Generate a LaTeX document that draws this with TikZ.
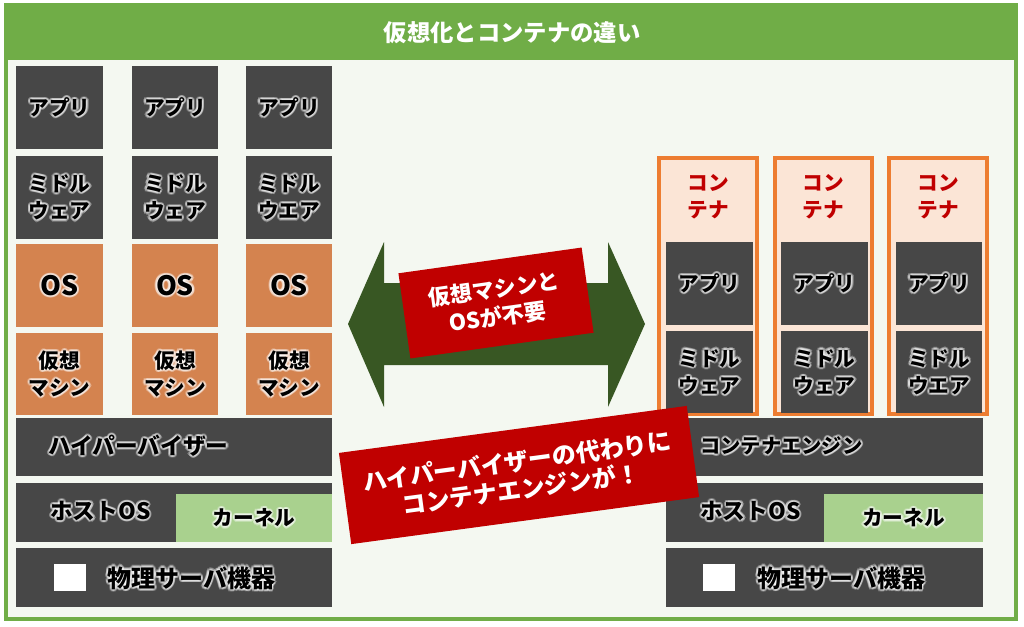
\documentclass[tikz,border=0pt]{standalone}
\usepackage{fontspec}
\setmainfont{Noto Sans CJK JP}
\usetikzlibrary{calc,fit}
\definecolor{frgreen}{HTML}{70AD47}
\definecolor{bgc}{HTML}{F4F8F1}
\definecolor{dgray}{HTML}{474747}
\definecolor{osor}{HTML}{D4834F}
\definecolor{cbord}{HTML}{ED7D31}
\definecolor{cfill}{HTML}{FBE5D6}
\definecolor{kern}{HTML}{A9D18E}
\definecolor{redb}{HTML}{C00000}
\definecolor{arrg}{HTML}{385723}
\tikzset{
  box/.style={inner sep=0pt, outer sep=0pt},
  dbox/.style={box, fill=dgray},
  obox/.style={box, fill=osor},
  kbox/.style={box, fill=kern},
  wbox/.style={box, fill=white},
  cbox/.style={box, fill=cfill, draw=cbord, line width=3pt},
  gltxt/.style={font=\bfseries\fontsize{15.5}{20.5}\selectfont, align=center, inner sep=0pt, text=black},
  redbox/.style={fill=redb, text=white, align=center, inner sep=0pt, font=\bfseries\fontsize{16.5}{20.5}\selectfont},
  ctitle/.style={text=redb, align=center, inner sep=0pt, font=\bfseries\fontsize{15.5}{20.5}\selectfont},
}
\newcommand\gl[4][]{%
  \foreach \a in {0,30,...,330}{\node[gltxt,#1,text=white,opacity=0.3] at ($(#3)+(\a:2.2)$) {#4};}%
  \node[gltxt,#1] (#2) at (#3) {#4};}
\begin{document}
\begin{tikzpicture}[x=0.75pt,y=-0.75pt]
\fill[white] (0,0) rectangle (1024,626);
\useasboundingbox (0,0) rectangle (1024,626);
% frame and title
\node[box, fit={(6,5)(1016,619)}, draw=frgreen, line width=3pt, fill=bgc] (frame) {};
\node[box, fit={(6,5)(1016,60)}, fill=frgreen] (bar) {};
\node[font=\bfseries\fontsize{17.5}{20}\selectfont, text=white, inner sep=0pt] (title) at (512,33) {仮想化とコンテナの違い};
% left stacks
\foreach \i/\xa/\xb/\we in {1/16/103/ウェア,2/132/218/ウェア,3/246/332/ウエア}{
  \node[dbox, fit={(\xa,66)(\xb,149)}] (la\i) {};
  \node[dbox, fit={(\xa,156)(\xb,239)}] (lm\i) {};
  \node[obox, fit={(\xa,244)(\xb,327)}] (lo\i) {};
  \node[obox, fit={(\xa,333)(\xb,415)}] (lv\i) {};
  \gl{lat\i}{la\i}{アプリ}
  \gl{lmt\i}{lm\i}{ミドル\\\we}
  \gl[font=\bfseries\fontsize{20}{22}\selectfont]{lot\i}{lo\i}{OS}
  \gl{lvt\i}{lv\i}{仮想\\マシン}
}
\node[dbox, fit={(16,418)(332,476)}] (hyp) {};
\node[dbox, fit={(16,483)(332,542)}] (lhost) {};
\node[kbox, fit={(176,494)(332,542)}] (lkern) {};
\node[dbox, fit={(16,548)(332,607)}] (lphys) {};
\node[wbox, fit={(54,564)(86,591)}] (lsq) {};
\gl[anchor=west, font=\bfseries\fontsize{17}{20}\selectfont]{hypt}{48,446}{ハイパーバイザー}
\gl[anchor=west, font=\bfseries\fontsize{17}{20}\selectfont]{lhostt}{50,511}{ホストOS}
\gl{lkernt}{lkern}{カーネル}
\gl[anchor=west, font=\bfseries\fontsize{18}{20}\selectfont]{lphyst}{107,578}{物理サーバ機器}
% right stacks
\foreach \i/\ca/\cb/\xa/\xb/\we in {1/659/757/666/753/ウェア,2/775/872/781/868/ウェア,3/889/987/896/982/ウエア}{
  \node[cbox, fit={(\ca,158)(\cb,414)}] (c\i) {};
  \node[ctitle] (ct\i) at ($(\ca,197)!0.5!(\cb,197)$) {コン\\テナ};
  \node[dbox, fit={(\xa,242)(\xb,325)}] (ra\i) {};
  \node[dbox, fit={(\xa,331)(\xb,413)}] (rm\i) {};
  \gl{rat\i}{ra\i}{アプリ}
  \gl{rmt\i}{rm\i}{ミドル\\\we}
}
\node[dbox, fit={(666,418)(983,476)}] (eng) {};
\node[dbox, fit={(666,483)(983,542)}] (rhost) {};
\node[kbox, fit={(824,494)(983,542)}] (rkern) {};
\node[dbox, fit={(666,548)(983,607)}] (rphys) {};
\node[wbox, fit={(703,564)(735,591)}] (rsq) {};
\gl[anchor=west, font=\bfseries\fontsize{15.2}{20}\selectfont]{engt}{700,446}{コンテナエンジン}
\gl[anchor=west, font=\bfseries\fontsize{17}{20}\selectfont]{rhostt}{700,511}{ホストOS}
\gl{rkernt}{rkern}{カーネル}
\gl[anchor=west, font=\bfseries\fontsize{18}{20}\selectfont]{rphyst}{757,578}{物理サーバ機器}
% double arrow
\fill[arrg] (348,324) -- (384,242) -- (384,283) -- (608,283) -- (608,242) -- (645,324)
  -- (608,407) -- (608,365) -- (384,365) -- (384,407) -- cycle;
% callouts
\node[redbox, rotate=8, minimum width=138.75pt, minimum height=64.5pt] (rb1) at (496,303) {仮想マシンと\\OSが不要};
\node[redbox, rotate=7.7, minimum width=263.25pt, minimum height=69pt, font=\bfseries\fontsize{18}{21}\selectfont] (rb2) at (519,475) {ハイパーバイザーの代わりに\\コンテナエンジンが！};
\end{tikzpicture}
\end{document}
